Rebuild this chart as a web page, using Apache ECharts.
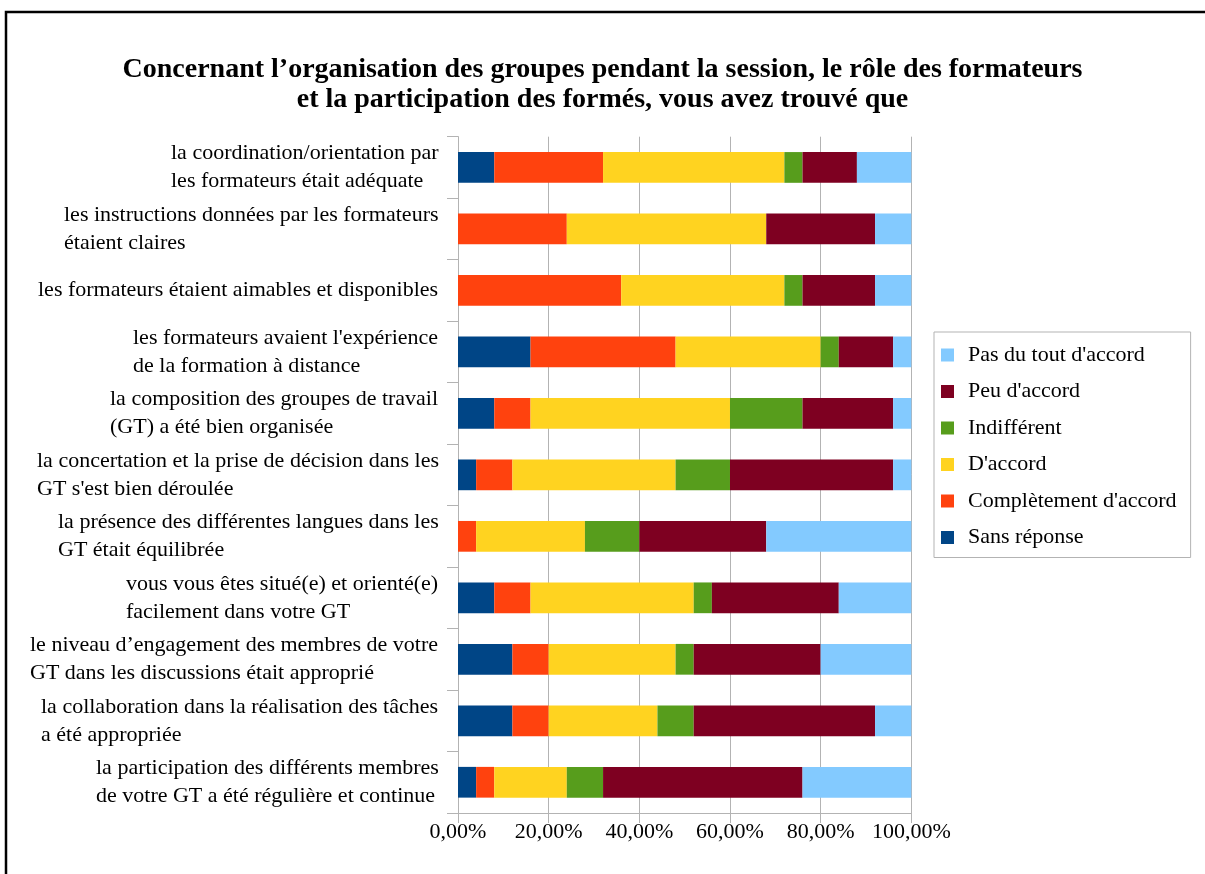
<!DOCTYPE html>
<html>
<head>
<meta charset="utf-8">
<script src="https://cdn.jsdelivr.net/npm/echarts@6/dist/echarts.min.js"></script>
<style>html,body{margin:0;padding:0;background:#fff;}#c{width:1205px;height:874px;}</style>
</head>
<body>
<div id="c"></div>
<script>
const categories = [
  "la coordination/orientation par\nles formateurs était adéquate",
  "les instructions données par les formateurs\nétaient claires",
  "les formateurs étaient aimables et disponibles",
  "les formateurs avaient l'expérience\nde la formation à distance",
  "la composition des groupes de travail\n(GT) a été bien organisée",
  "la concertation et la prise de décision dans les\nGT s'est bien déroulée",
  "la présence des différentes langues dans les\nGT était équilibrée",
  "vous vous êtes situé(e) et orienté(e)\nfacilement dans votre GT",
  "le niveau d’engagement des membres de votre\nGT dans les discussions était approprié",
  "la collaboration dans la réalisation des tâches\na été appropriée",
  "la participation des différents membres\nde votre GT a été régulière et continue"
];
const sansReponse  = [8, 0, 0, 16, 8, 4, 0, 8, 12, 12, 4];
const completement = [24, 24, 36, 32, 8, 8, 4, 8, 8, 8, 4];
const daccord      = [40, 44, 36, 32, 44, 36, 24, 36, 28, 24, 16];
const indifferent  = [4, 0, 4, 4, 16, 12, 12, 4, 4, 8, 8];
const peuDaccord   = [12, 24, 16, 12, 20, 36, 28, 28, 28, 40, 44];
const pasDuTout    = [12, 8, 8, 4, 4, 4, 32, 16, 20, 8, 24];
const xTicks = [0, 20, 40, 60, 80, 100];
const seriesNames = ["Sans réponse", "Complètement d'accord", "D'accord", "Indifférent", "Peu d'accord", "Pas du tout d'accord"];
const title = "Concernant l’organisation des groupes pendant la session, le rôle des formateurs\net la participation des formés, vous avez trouvé que";

const FONT = "'Liberation Serif', 'Times New Roman', serif";
const colors = ['#004586', '#ff420e', '#ffd320', '#579d1c', '#7e0021', '#83caff'];
const seriesData = [sansReponse, completement, daccord, indifferent, peuDaccord, pasDuTout];

// measure label blocks to left-align lines inside a right-aligned block
const cv = document.createElement('canvas').getContext('2d');
cv.font = "22px 'Liberation Serif'";
const rich = {};
categories.forEach((c, i) => {
  const w = Math.max(...c.split('\n').map(l => cv.measureText(l).width));
  rich['w' + i] = { width: Math.ceil(w) + 1, align: 'left', fontFamily: FONT, fontSize: 22, lineHeight: 28, color: '#000' };
});

const chart = echarts.init(document.getElementById('c'), null, { renderer: 'canvas' });
chart.setOption({
  animation: false,
  backgroundColor: '#fff',
  color: colors,
  title: {
    text: title,
    left: 'center',
    top: 55,
    padding: 0,
    textStyle: { fontFamily: FONT, fontSize: 28, fontWeight: 'bold', lineHeight: 30, color: '#000', align: 'center' }
  },
  legend: {
    orient: 'vertical',
    left: 934,
    top: 332,
    padding: [11, 14, 8, 7],
    borderColor: '#b3b3b3',
    borderWidth: 1,
    itemWidth: 13,
    itemHeight: 13,
    itemGap: 12.5,
    icon: 'rect',
    data: seriesNames.slice().reverse(),
    textStyle: { fontFamily: FONT, fontSize: 22, lineHeight: 24, color: '#000', padding: [0, 0, 0, 9] }
  },
  grid: { left: 458, right: 293.7, top: 136.7, bottom: 61, containLabel: false },
  xAxis: {
    type: 'value',
    min: 0, max: 100, interval: 20,
    axisLine: { show: true, lineStyle: { color: '#b3b3b3', width: 1 } },
    axisTick: { show: true, length: 10, lineStyle: { color: '#b3b3b3' } },
    splitLine: { show: true, lineStyle: { color: '#b3b3b3', width: 1 } },
    axisLabel: {
      margin: 8,
      fontFamily: FONT, fontSize: 22, color: '#000',
      formatter: v => xTicks.includes(v) ? v.toFixed(2).replace('.', ',') + '%' : ''
    }
  },
  yAxis: {
    type: 'category',
    inverse: true,
    data: categories,
    axisLine: { show: true, lineStyle: { color: '#b3b3b3', width: 1 } },
    axisTick: { show: true, length: 11, lineStyle: { color: '#b3b3b3' } },
    axisLabel: {
      margin: 18,
      fontFamily: FONT, fontSize: 22, lineHeight: 28, color: '#000',
      formatter: (v, i) => v.split('\n').map(l => '{w' + i + '|' + l + '}').join('\n'),
      rich: rich
    }
  },
  series: seriesNames.map((n, k) => ({
    name: n,
    type: 'bar',
    stack: 'total',
    barWidth: '50%',
    data: seriesData[k],
    itemStyle: { color: colors[k] }
  })),
  graphic: [{
    type: 'rect',
    shape: { x: 6, y: 12, width: 1400, height: 1000 },
    style: { fill: 'none', stroke: '#000', lineWidth: 2.5 },
    silent: true
  }]
});
</script>
</body>
</html>
